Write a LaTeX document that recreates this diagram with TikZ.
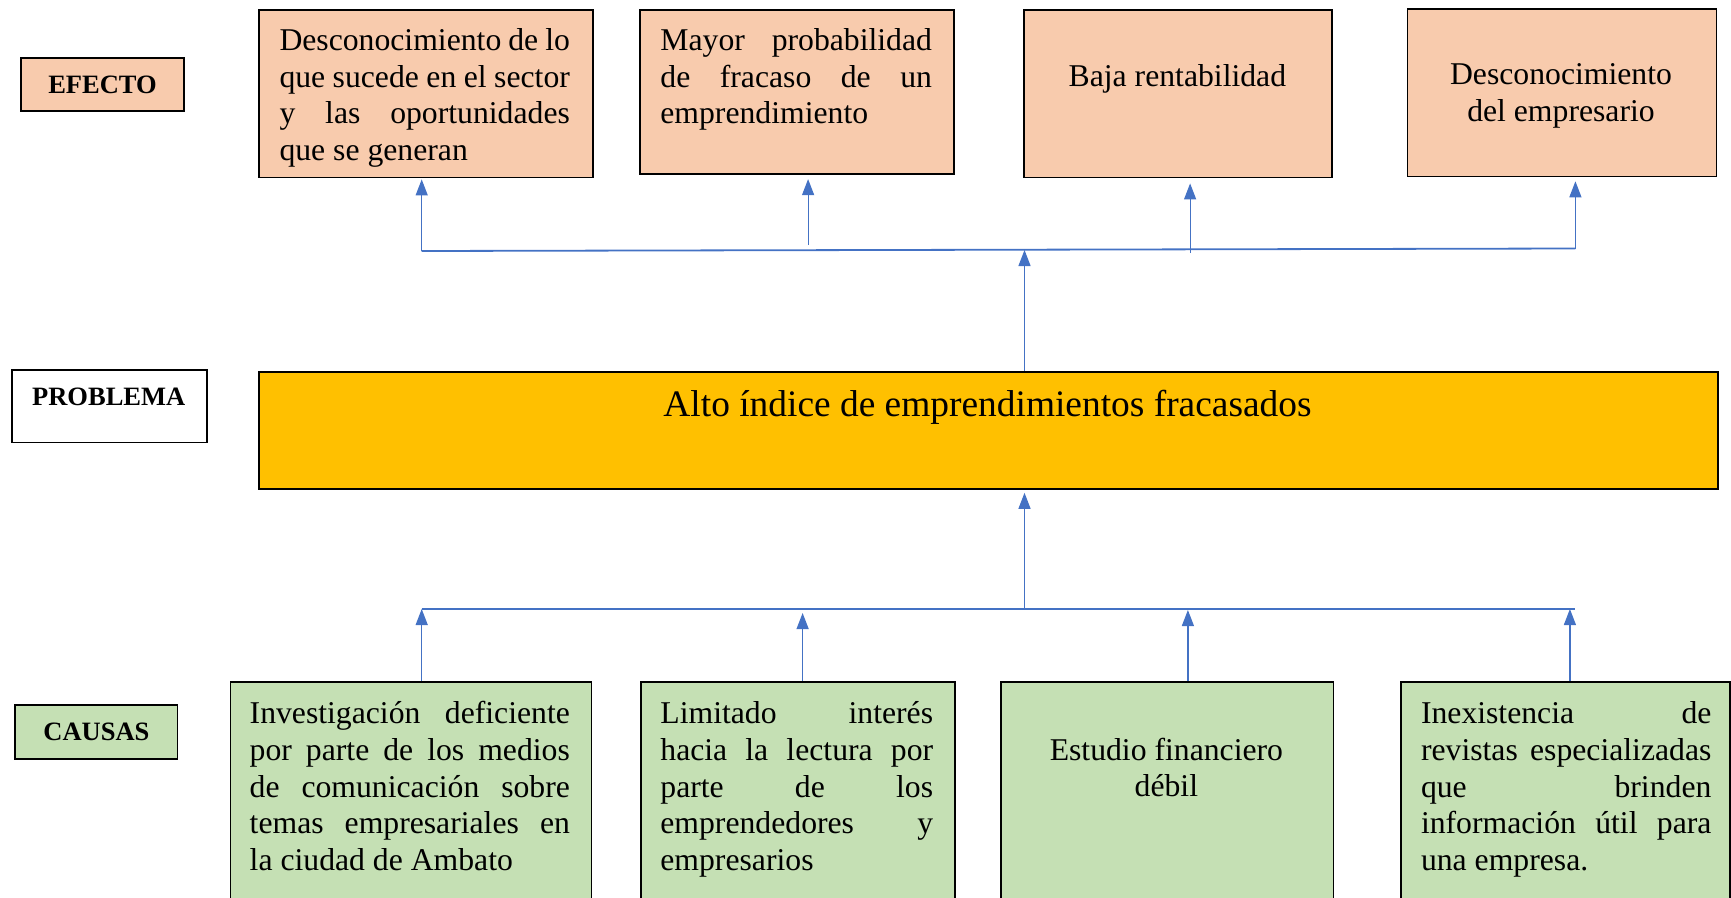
\documentclass[tikz,border=0pt]{standalone}
\usepackage{fontspec}
\setmainfont{Liberation Serif}
\usetikzlibrary{arrows.meta,calc}
\definecolor{peach}{HTML}{F8CBAD}
\definecolor{gold}{HTML}{FFC000}
\definecolor{sage}{HTML}{C5E0B4}
\definecolor{arrowblue}{HTML}{4472C4}
\newcommand\jline[1]{\makebox[\hsize][s]{#1}}
\begin{document}
\begin{tikzpicture}[x=1pt,y=-1pt,
  box/.style={draw=black, line width=1.8pt, rectangle, inner sep=0pt, anchor=north west},
  effbox/.style={box, fill=peach},
  causebox/.style={box, fill=sage},
  probbox/.style={box, fill=gold},
  lbl/.style={box, font=\fontsize{26.5}{30}\selectfont\bfseries},
  txt/.style={inner sep=0pt, anchor=base west, align=flush left, font=\fontsize{31.7}{36.8}\selectfont},
  ctxt/.style={inner sep=0pt, anchor=base, align=flush center, font=\fontsize{31.7}{36.8}\selectfont},
  conn/.style={draw=arrowblue, line width=1.2pt, -{Triangle[width=12pt,length=16pt]}},
  bus/.style={draw=arrowblue, line width=1.8pt}]
\useasboundingbox (0,0) rectangle (1731,897);
\clip (0,0) rectangle (1731,897);
% labels
\node[lbl, fill=peach, minimum width=163.4pt, minimum height=53pt] (lefect) at (19.9,57.4) {EFECTO};
\node[box, fill=white, minimum width=195.4pt, minimum height=72.9pt] (lprob) at (11,368.7) {};
\node[inner sep=0pt, anchor=base, font=\fontsize{26.5}{30}\selectfont\bfseries] (lprobt) at (108.7,405) {PROBLEMA};
\node[lbl, fill=sage, minimum width=162.2pt, minimum height=54pt] (lcaus) at (14.4,704.4) {CAUSAS};
% effect boxes
\node[effbox, minimum width=333.4pt, minimum height=167.8pt] (e1) at (258.3,8.8) {};
\node[effbox, minimum width=313.5pt, minimum height=164.5pt] (e2) at (639.2,8.8) {};
\node[effbox, minimum width=308pt, minimum height=167.8pt] (e3) at (1023.4,8.8) {};
\node[effbox, minimum width=309.1pt, minimum height=167.8pt] (e4) at (1406.5,7.7) {};
\node[txt, text width=290.4pt] (e1t) at (279.3,50.2) {\jline{Desconocimiento de lo}\\\jline{que sucede en el sector}\\\jline{y las oportunidades}\\que se generan};
\node[txt, text width=271.6pt] (e2t) at (660.2,50.2) {\jline{Mayor probabilidad}\\\jline{de fracaso de un}\\emprendimiento};
\node[ctxt] (e3t) at (1177.4,86.5) {Baja rentabilidad};
\node[ctxt, text width=300pt] (e4t) at (1561,84.5) {Desconocimiento\\del empresario};
% problem
\node[probbox, minimum width=1458.4pt, minimum height=117pt] (prob) at (258.3,371) {};
\node[inner sep=0pt, anchor=base, font=\fontsize{37.4}{42}\selectfont] (probt) at (987.5,416) {Alto índice de emprendimientos fracasados};
% cause boxes
\node[causebox, minimum width=361pt, minimum height=260pt] (c1) at (229.6,681) {};
\node[causebox, minimum width=313.6pt, minimum height=260pt] (c2) at (640.3,681) {};
\node[causebox, minimum width=332.3pt, minimum height=260pt] (c3) at (1000.2,681) {};
\node[causebox, minimum width=329.5pt, minimum height=260pt] (c4) at (1399.9,681) {};
\node[txt, text width=320.2pt] (c1t) at (249.5,723.4) {\jline{Investigación deficiente}\\\jline{por parte de los medios}\\\jline{de comunicación sobre}\\\jline{temas empresariales en}\\la ciudad de Ambato};
\node[txt, text width=272.7pt] (c2t) at (660.2,723.4) {\jline{Limitado interés}\\\jline{hacia la lectura por}\\\jline{parte de los}\\\jline{emprendedores y}\\empresarios};
\node[ctxt, text width=320pt] (c3t) at (1166.4,760) {Estudio financiero\\débil};
\node[txt, text width=290.4pt] (c4t) at (1420.8,723.4) {\jline{Inexistencia de}\\\jline{revistas especializadas}\\\jline{que brinden}\\\jline{información útil para}\\una empresa.};
% top bus
\coordinate (tbL) at (421.7,251);
\coordinate (tbR) at (1575.4,248.5);
\coordinate (tbM) at (1024.5,250);
\coordinate (ta2) at (808.1,245);
\coordinate (ta3) at (1190.1,253);
\draw[bus] (tbL) -- (tbR);
\draw[conn] (tbL) -- ([yshift=-1pt]tbL |- e1.south);
\draw[conn] (ta2) -- ([yshift=-4pt]ta2 |- e2.south);
\draw[conn] (ta3) -- ([yshift=-5pt]ta3 |- e3.south);
\draw[conn] (tbR) -- ([yshift=-4pt]tbR |- e4.south);
\draw[conn] (tbM |- prob.north) -- (tbM);
% bottom bus
\coordinate (bbL) at (421.7,609);
\coordinate (bbR) at (1575.4,609);
\coordinate (bbM) at (1024.5,609);
\coordinate (bb2) at (802.6,613);
\coordinate (bb3) at (1187.9,610);
\coordinate (bb4) at (1569.9,609);
\draw[bus] (bbL) -- (bbR);
\draw[conn] (bbM) -- ([yshift=-3pt]bbM |- prob.south);
\draw[conn] (bbL |- c1.north) -- (bbL);
\draw[conn] (bb2 |- c2.north) -- (bb2);
\draw[conn] (bb3 |- c3.north) -- (bb3);
\draw[conn] (bb4 |- c4.north) -- (bb4);
\end{tikzpicture}
\end{document}
